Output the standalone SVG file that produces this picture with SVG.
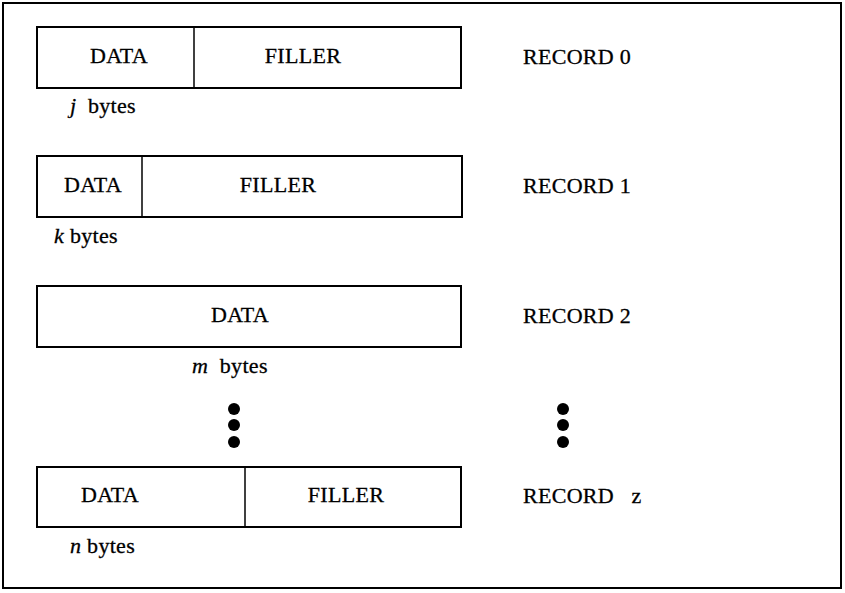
<svg xmlns="http://www.w3.org/2000/svg" width="845" height="593" viewBox="0 0 845 593">
<style>
.box{fill:#fff;stroke:#000;stroke-width:2}
.div{stroke:#000;stroke-width:1.5}
text{font-family:'Liberation Serif','Times New Roman',serif;font-size:22px;fill:#000;stroke:#000;stroke-width:0.3;letter-spacing:0.3px;white-space:pre}
.c{text-anchor:middle}
.i{font-style:italic}
.dot{fill:#000}
</style>
<rect x="0" y="0" width="845" height="593" fill="#fff"/>
<rect x="3" y="3" width="838" height="585" fill="none" stroke="#000" stroke-width="2"/>
<g id="record0">
<rect class="box" x="37" y="27" width="424" height="61"/>
<line class="div" x1="194" y1="27" x2="194" y2="88"/>
<text class="c" x="119" y="63">DATA</text>
<text class="c" x="303" y="63">FILLER</text>
<text x="70" y="113" xml:space="preserve"><tspan class="i">j</tspan>  bytes</text>
<text x="523" y="64">RECORD 0</text>
</g>
<g id="record1">
<rect class="box" x="37" y="156" width="425" height="61"/>
<line class="div" x1="142" y1="156" x2="142" y2="217"/>
<text class="c" x="93" y="192">DATA</text>
<text class="c" x="278" y="192">FILLER</text>
<text x="54" y="243" xml:space="preserve"><tspan class="i">k</tspan> bytes</text>
<text x="523" y="193">RECORD 1</text>
</g>
<g id="record2">
<rect class="box" x="37" y="286" width="424" height="61"/>
<text class="c" x="240" y="322">DATA</text>
<text x="192" y="373" xml:space="preserve"><tspan class="i">m</tspan>  bytes</text>
<text x="523" y="323">RECORD 2</text>
</g>
<g id="ellipsis">
<circle class="dot" cx="234" cy="409" r="6"/>
<circle class="dot" cx="234" cy="425" r="6"/>
<circle class="dot" cx="234" cy="442" r="6"/>
<circle class="dot" cx="563" cy="409" r="6"/>
<circle class="dot" cx="563" cy="425" r="6"/>
<circle class="dot" cx="563" cy="442" r="6"/>
</g>
<g id="recordz">
<rect class="box" x="37" y="467" width="424" height="60"/>
<line class="div" x1="245" y1="467" x2="245" y2="527"/>
<text class="c" x="110" y="502">DATA</text>
<text class="c" x="346" y="502">FILLER</text>
<text x="70" y="553" xml:space="preserve"><tspan class="i">n</tspan> bytes</text>
<text x="523" y="503" xml:space="preserve">RECORD   z</text>
</g>
<g id="connectors"></g>
</svg>
